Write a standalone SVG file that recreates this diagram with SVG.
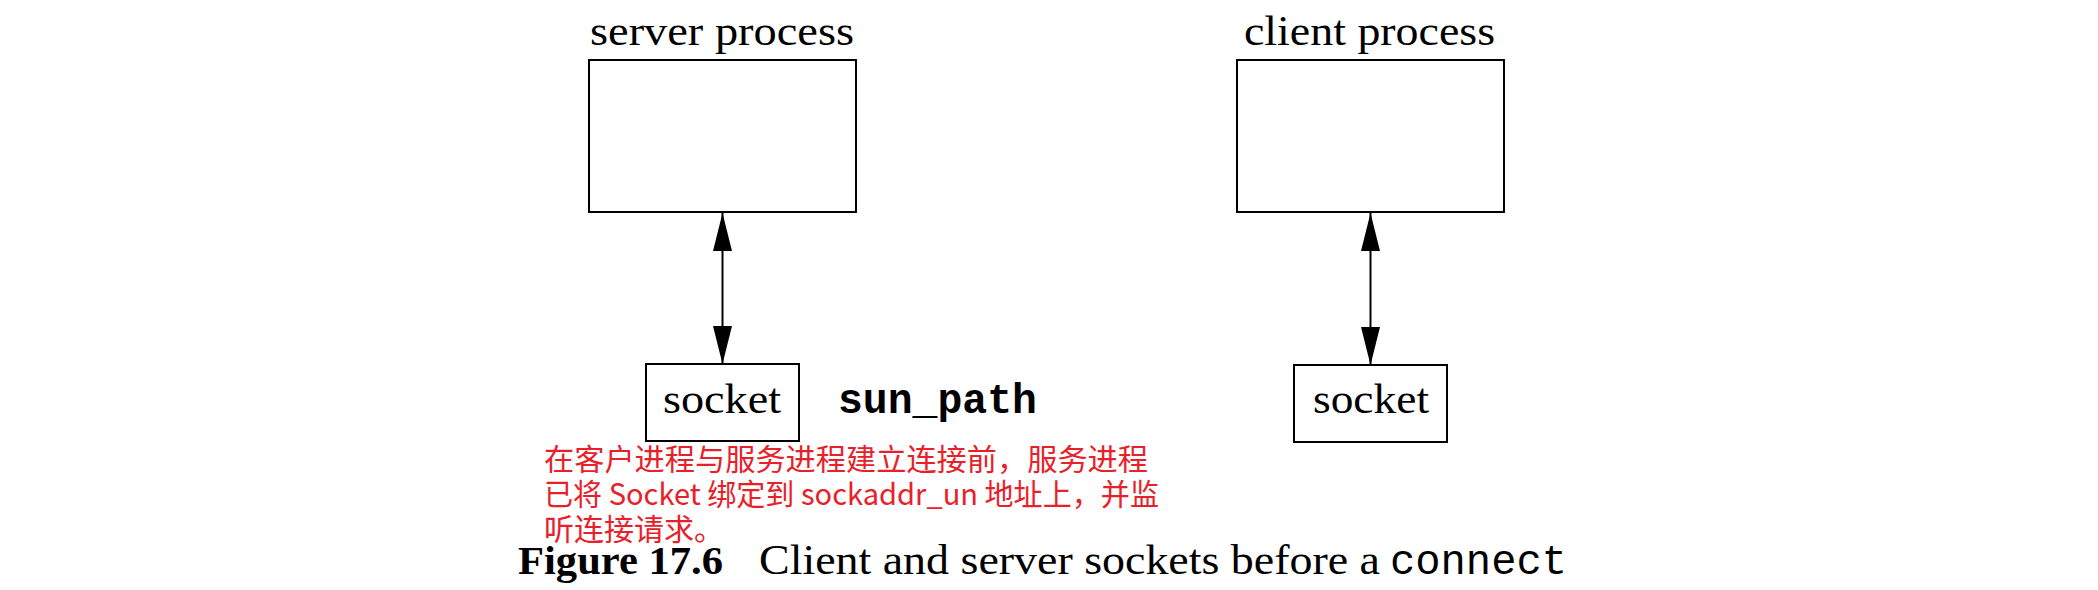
<svg xmlns="http://www.w3.org/2000/svg" width="2098" height="590" viewBox="0 0 2098 590">
  <style>
    .box { fill: #ffffff; stroke: #000000; stroke-width: 2; }
    .title { font-family: "Liberation Serif", "Times New Roman", serif; font-size: 43px; fill: #000000; }
    .mono { font-family: "Liberation Mono", "Courier New", monospace; font-size: 42px; font-weight: bold; fill: #000000; }
    .note { font-family: "Noto Sans CJK SC", "Noto Sans", sans-serif; font-size: 30px; fill: #e8202a; }
    .cap { font-family: "Liberation Serif", "Times New Roman", serif; font-size: 42px; fill: #000000; }
    .capb { font-family: "Liberation Serif", "Times New Roman", serif; font-size: 41px; font-weight: bold; fill: #000000; }
    .capm { font-family: "Liberation Mono", "Courier New", monospace; font-size: 42px; fill: #000000; }
    .conn { stroke: #000000; stroke-width: 2; fill: none; }
  </style>
  <defs>
    <marker id="arrow" markerUnits="userSpaceOnUse" markerWidth="38" markerHeight="19" refX="38" refY="9.5" orient="auto-start-reverse" viewBox="0 0 38 19">
      <path d="M0,0 L38,9.5 L0,19 Z" fill="#000000"/>
    </marker>
  </defs>
  <rect width="2098" height="590" fill="#ffffff"/>

  <g id="server-process">
    <text class="title" x="590" y="45" textLength="264" lengthAdjust="spacingAndGlyphs">server process</text>
    <rect class="box" x="589" y="60" width="267" height="152"/>
  </g>

  <g id="client-process">
    <text class="title" x="1244" y="45" textLength="251" lengthAdjust="spacingAndGlyphs">client process</text>
    <rect class="box" x="1237" y="60" width="267" height="152"/>
  </g>

  <g id="server-socket">
    <rect class="box" x="646" y="364" width="153" height="77"/>
    <text class="title" x="663" y="413" textLength="118" lengthAdjust="spacingAndGlyphs">socket</text>
  </g>

  <g id="sun-path">
    <text class="mono" x="838" y="413" textLength="199" lengthAdjust="spacingAndGlyphs">sun_path</text>
  </g>

  <g id="client-socket">
    <rect class="box" x="1294" y="365" width="153" height="77"/>
    <text class="title" x="1313" y="413" textLength="116" lengthAdjust="spacingAndGlyphs">socket</text>
  </g>

  <g id="connectors">
    <line class="conn" x1="722.5" y1="213" x2="722.5" y2="364" marker-start="url(#arrow)" marker-end="url(#arrow)"/>
    <line class="conn" x1="1370.5" y1="213" x2="1370.5" y2="365" marker-start="url(#arrow)" marker-end="url(#arrow)"/>
  </g>

  <g id="note">
    <text class="note" x="544" y="470" textLength="604" lengthAdjust="spacingAndGlyphs">在客户进程与服务进程建立连接前，服务进程</text>
    <text class="note" x="544" y="505" textLength="615" lengthAdjust="spacingAndGlyphs">已将 Socket 绑定到 sockaddr_un 地址上，并监</text>
    <text class="note" x="544" y="540">听连接请求。</text>
  </g>

  <g id="caption">
    <text class="capb" x="518" y="574" textLength="205" lengthAdjust="spacingAndGlyphs">Figure 17.6</text>
    <text class="cap" x="759" y="574" textLength="621" lengthAdjust="spacingAndGlyphs">Client and server sockets before a</text>
    <text class="capm" x="1390" y="574" textLength="177" lengthAdjust="spacingAndGlyphs">connect</text>
  </g>
</svg>
